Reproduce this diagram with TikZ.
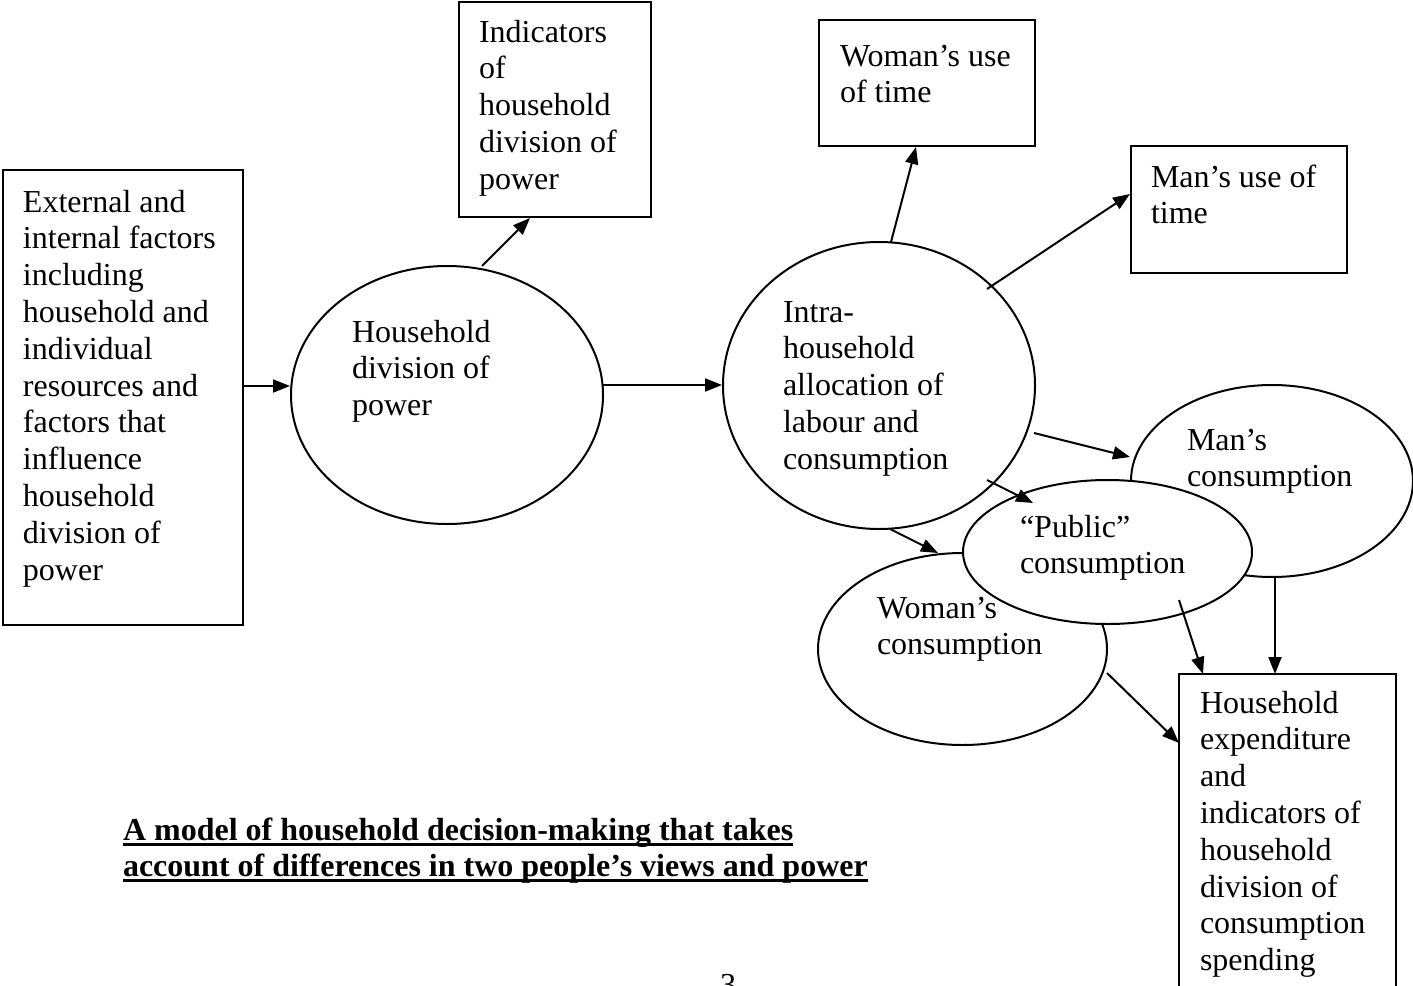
\documentclass[tikz,border=0pt]{standalone}
\usepackage{fontspec}
\setmainfont{Liberation Serif}
\usetikzlibrary{shapes.geometric,arrows.meta}
\newcommand{\mlines}[1]{\begin{tabular}[t]{@{}l@{}}#1\end{tabular}}
\begin{document}
\begin{tikzpicture}[x=1pt,y=-1pt,
  box/.style={draw, line width=2pt, rectangle, inner sep=0pt, outer sep=0pt, anchor=north west},
  oval/.style={draw, line width=2pt, ellipse, inner sep=0pt, outer sep=0pt, fill=white},
  txt/.style={anchor=base west, inner sep=0pt, outer sep=0pt, font=\fontsize{32}{36.8}\selectfont},
  ttl/.style={anchor=base west, inner sep=0pt, outer sep=0pt, font=\fontsize{32}{36.8}\selectfont\bfseries},
  arr/.style={line width=2pt, -{Triangle[length=17pt,width=13pt]}},
  ul/.style={line width=3pt}]
\useasboundingbox[fill=white] (0,0) rectangle (1413,985);

% boxes
\node[box, minimum width=240pt, minimum height=455pt] (ext) at (3,170) {};
\node[box, minimum width=192pt, minimum height=215pt] (ind) at (459,2) {};
\node[box, minimum width=216pt, minimum height=126pt] (wt) at (819,20) {};
\node[box, minimum width=216pt, minimum height=127pt] (mt) at (1131,146) {};
\node[box, minimum width=217pt, minimum height=340pt] (he) at (1179,674) {};

% ellipses
\node[oval, minimum width=312pt, minimum height=258pt] (hdp) at (447,395) {};
\node[oval, minimum width=312pt, minimum height=287pt] (intra) at (879,385.5) {};
\node[oval, minimum width=282pt, minimum height=192pt] (mc) at (1272,481) {};
\node[oval, minimum width=289pt, minimum height=192pt] (wc) at (962.5,649) {};
\node[oval, minimum width=289pt, minimum height=144pt] (pub) at (1107.5,552) {};

% texts
\node[txt] (extT) at (23,212) {\mlines{External and\\internal factors\\including\\household and\\individual\\resources and\\factors that\\influence\\household\\division of\\power}};
\node[txt] (hdpT) at (352,342) {\mlines{Household\\division of\\power}};
\node[txt] (indT) at (479,42) {\mlines{Indicators\\of\\household\\division of\\power}};
\node[txt] (wtT) at (840,66) {\mlines{Woman’s use\\of time}};
\node[txt] (mtT) at (1151,187) {\mlines{Man’s use of\\time}};
\node[txt] (intraT) at (783,322) {\mlines{Intra-\\household\\allocation of\\labour and\\consumption}};
\node[txt] (mcT) at (1187,450) {\mlines{Man’s\\consumption}};
\node[txt] (pubT) at (1020,537) {\mlines{“Public”\\consumption}};
\node[txt] (wcT) at (877,618) {\mlines{Woman’s\\consumption}};
\node[txt] (heT) at (1200,713) {\mlines{Household\\expenditure\\and\\indicators of\\household\\division of\\consumption\\spending}};

% title
\node[ttl] (t1) at (123,840) {A model of household decision-making that takes};
\node[ttl] (t2) at (123,876) {account of differences in two people’s views and power};
\draw[ul] ([shift={(0,4)}]t1.base west) -- ([shift={(0,4)}]t1.base east);
\draw[ul] ([shift={(0,4)}]t2.base west) -- ([shift={(0,4)}]t2.base east);
\node[txt] (pg) at (720,995) {3};

% arrows
\draw[arr] ([shift={(120,-11.5)}]ext.center) -- ([shift={(-157,-9)}]hdp.center);
\draw[arr] ([shift={(35,-129)}]hdp.center) -- ([shift={(-25,108.5)}]ind.center);
\draw[arr] ([shift={(156,-10)}]hdp.center) -- ([shift={(-157,-0.5)}]intra.center);
\draw[arr] ([shift={(12,-143.5)}]intra.center) -- ([shift={(-11,64)}]wt.center);
\draw[arr] ([shift={(108,-96.5)}]intra.center) -- ([shift={(-109,-15.5)}]mt.center);
\draw[arr] ([shift={(155,47.5)}]intra.center) -- ([shift={(-142,-24)}]mc.center);
\draw[arr] ([shift={(108,94.5)}]intra.center) -- ([shift={(-74.5,-49)}]pub.center);
\draw[arr] ([shift={(11,143.5)}]intra.center) -- ([shift={(-24.5,-96)}]wc.center);
\draw[arr] ([shift={(71.5,48)}]pub.center) -- ([shift={(24,0)}]he.north west);
\draw[arr] ([shift={(3,96)}]mc.center) -- ([shift={(96,0)}]he.north west);
\draw[arr] ([shift={(144.5,24)}]wc.center) -- ([shift={(0,69)}]he.north west);
\end{tikzpicture}
\end{document}
